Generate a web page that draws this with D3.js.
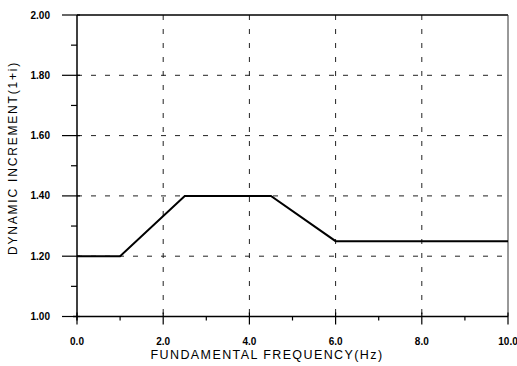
<!DOCTYPE html>
<html>
<head>
<meta charset="utf-8">
<script src="https://cdn.jsdelivr.net/npm/d3@7"></script>
<style>
  body { margin: 0; background: #fff; }
  text { font-family: "Liberation Sans", Arial, sans-serif; fill: #000; }
</style>
</head>
<body>
<svg id="chart" width="517" height="366"></svg>
<script>
// curve points
const freq = [0, 1, 2.5, 4.5, 6, 10];
const increment = [1.20, 1.20, 1.40, 1.40, 1.25, 1.25];

const xTicks = [0, 2, 4, 6, 8, 10];
const xMinor = [1, 3, 5, 7, 9];
const yTicks = [1.0, 1.2, 1.4, 1.6, 1.8, 2.0];
const yMinor = [1.1, 1.3, 1.5, 1.7, 1.9];

const svg = d3.select("#chart");
const plotL = 77, plotR = 508, plotT = 15, plotB = 316.5;

const x = d3.scaleLinear().domain([0, 10]).range([plotL, plotR]);
const y = d3.scaleLinear().domain([1, 2]).range([plotB, plotT]);

// dashed grid
const grid = svg.append("g")
    .attr("stroke", "#222")
    .attr("stroke-width", 1)
    .attr("stroke-dasharray", "5,9");
grid.selectAll(".gx")
    .data(xTicks.filter(d => d > 0 && d < 10))
    .enter().append("line")
    .attr("x1", d => x(d)).attr("x2", d => x(d))
    .attr("y1", plotT).attr("y2", plotB);
grid.selectAll(".gy")
    .data(yTicks.filter(d => d > 1 && d < 2))
    .enter().append("line")
    .attr("x1", plotL).attr("x2", plotR)
    .attr("y1", d => y(d)).attr("y2", d => y(d));

// frame
svg.append("line").attr("x1", plotL).attr("x2", plotR).attr("y1", plotT).attr("y2", plotT)
    .attr("stroke", "#000").attr("stroke-width", 1.5);
svg.append("line").attr("x1", plotR).attr("x2", plotR).attr("y1", plotT).attr("y2", plotB)
    .attr("stroke", "#333").attr("stroke-width", 1);
svg.append("line").attr("x1", plotL).attr("x2", plotL).attr("y1", plotT).attr("y2", plotB + 4)
    .attr("stroke", "#000").attr("stroke-width", 1.5);
svg.append("line").attr("x1", plotL - 4).attr("x2", plotR).attr("y1", plotB).attr("y2", plotB)
    .attr("stroke", "#000").attr("stroke-width", 1.5);

// ticks
const ticks = svg.append("g").attr("stroke", "#000").attr("stroke-width", 1.2);
ticks.selectAll(".ty").data(yTicks).enter().append("line")
    .attr("x1", plotL - 15).attr("x2", plotL + 3)
    .attr("y1", d => y(d)).attr("y2", d => y(d));
ticks.selectAll(".tym").data(yMinor).enter().append("line")
    .attr("x1", plotL - 6).attr("x2", plotL)
    .attr("y1", d => y(d)).attr("y2", d => y(d));
ticks.selectAll(".tx").data(xTicks).enter().append("line")
    .attr("x1", d => x(d)).attr("x2", d => x(d))
    .attr("y1", plotB - 4).attr("y2", plotB + 8);
ticks.selectAll(".txm").data(xMinor).enter().append("line")
    .attr("x1", d => x(d)).attr("x2", d => x(d))
    .attr("y1", plotB).attr("y2", plotB + 4);

// tick labels
svg.selectAll(".ly").data(yTicks).enter().append("text")
    .attr("x", 50).attr("y", d => y(d)).attr("dy", "0.35em")
    .attr("text-anchor", "end")
    .style("font-size", "10px").style("font-weight", "bold")
    .text(d => d.toFixed(2));
svg.selectAll(".lx").data(xTicks).enter().append("text")
    .attr("x", d => x(d)).attr("y", 341).attr("dy", "0.35em")
    .attr("text-anchor", "middle")
    .style("font-size", "10px").style("font-weight", "bold")
    .text(d => d.toFixed(1));

// axis titles
svg.append("text")
    .attr("x", 267).attr("y", 355).attr("dy", "0.35em")
    .attr("text-anchor", "middle")
    .style("font-size", "12.5px").style("letter-spacing", "1.4px")
    .text("FUNDAMENTAL FREQUENCY(Hz)");
svg.append("text")
    .attr("transform", "translate(12.5,158) rotate(-90)")
    .attr("dy", "0.35em")
    .attr("text-anchor", "middle")
    .style("font-size", "12px").style("letter-spacing", "1.8px")
    .text("DYNAMIC INCREMENT(1+i)");

// curve
const line = d3.line().x((d, i) => x(freq[i])).y(d => y(d));
svg.append("path")
    .datum(increment)
    .attr("d", line)
    .attr("fill", "none")
    .attr("stroke", "#000")
    .attr("stroke-width", 2);
</script>
</body>
</html>
